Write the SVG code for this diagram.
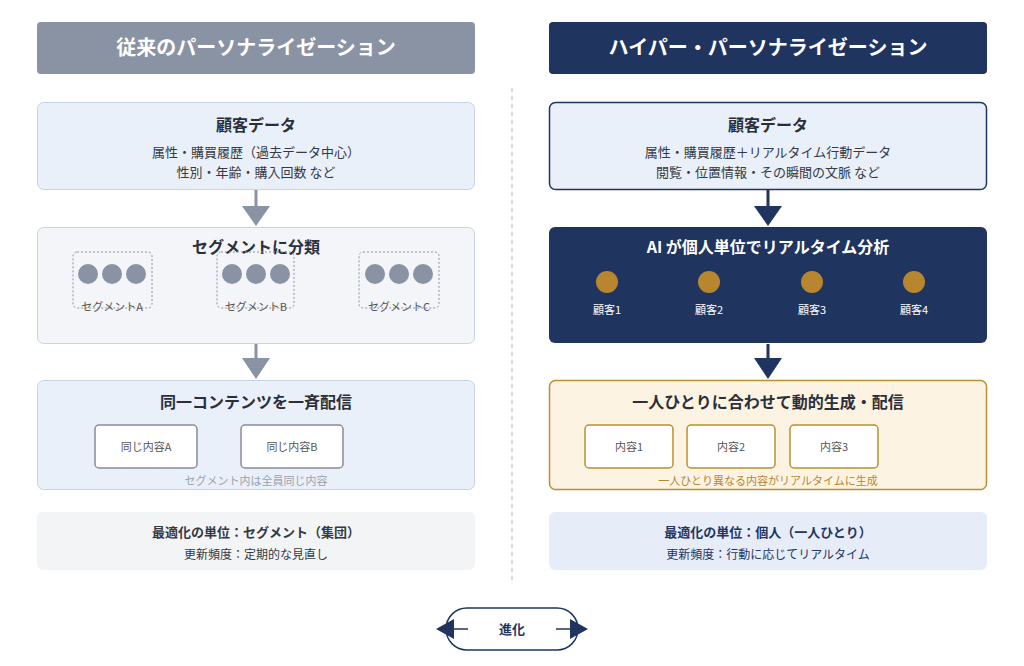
<svg xmlns="http://www.w3.org/2000/svg" width="1024" height="666" viewBox="0 0 1024 666">
<defs>
<style>
text{font-family:"Noto Sans CJK JP","Noto Sans",sans-serif;text-anchor:middle}
.h{font-size:20px;font-weight:bold;fill:#fff}
.t{font-size:16px;font-weight:bold;fill:#2b2f3a}
.s{font-size:13px;fill:#333a44}
.sm{font-size:11px;fill:#555}
.card{fill:#fff;stroke:#888c94;stroke-width:1.5}
.gc{fill:#fff;stroke:#b8912f;stroke-width:1.5}
</style>
<marker id="ag" viewBox="0 0 10 10" refX="5" refY="10" markerWidth="3.2" markerHeight="3.2" orient="auto"><path d="M0,0 L10,0 L5,10z" fill="#8a93a3"/></marker>
</defs>
<rect width="1024" height="666" fill="#fff"/>
<line x1="512" y1="88" x2="512" y2="582" stroke="#ccc" stroke-width="1.5" stroke-dasharray="4 4"/>

<g id="hdrL"><rect x="37" y="22" width="438" height="52" rx="4" fill="#8a93a3"/><text class="h" x="256" y="55">従来のパーソナライゼーション</text></g>
<g id="hdrR"><rect x="549" y="22" width="438" height="52" rx="4" fill="#1f3560"/><text class="h" x="768" y="55">ハイパー・パーソナライゼーション</text></g>

<g id="dataL"><rect x="37.5" y="102.5" width="437" height="87" rx="6" fill="#eaf0fa" stroke="#c8d3e6"/><text class="t" x="256" y="131">顧客データ</text><text class="s" x="256" y="157">属性・購買履歴（過去データ中心）</text><text class="s" x="256" y="177">性別・年齢・購入回数 など</text></g>
<g id="dataR"><rect x="549.5" y="102.5" width="437" height="87" rx="6" fill="#eaf0fa" stroke="#1f3560" stroke-width="1.5"/><text class="t" x="768" y="131">顧客データ</text><text class="s" x="768" y="157">属性・購買履歴＋リアルタイム行動データ</text><text class="s" x="768" y="177">閲覧・位置情報・その瞬間の文脈 など</text></g>

<g id="segL"><rect x="37.5" y="227.5" width="437" height="116" rx="6" fill="#f3f5f9" stroke="#c8d3e6"/><text class="t" x="256" y="253">セグメントに分類</text>
<g fill="#8a93a3"><circle cx="88" cy="274" r="10"/><circle cx="112" cy="274" r="10"/><circle cx="136" cy="274" r="10"/><circle cx="232" cy="274" r="10"/><circle cx="256" cy="274" r="10"/><circle cx="280" cy="274" r="10"/><circle cx="375" cy="274" r="10"/><circle cx="399" cy="274" r="10"/><circle cx="423" cy="274" r="10"/></g>
<g fill="none" stroke="#8a93a3" stroke-dasharray="2 2"><rect x="73" y="252" width="79" height="56" rx="4"/><rect x="217" y="252" width="77" height="56" rx="4"/><rect x="359" y="252" width="80" height="56" rx="4"/></g>
<text class="sm" x="112" y="311">セグメントA</text><text class="sm" x="256" y="311">セグメントB</text><text class="sm" x="399" y="311">セグメントC</text></g>

<g id="aiR"><rect x="549" y="227" width="438" height="116" rx="6" fill="#1f3560"/><text class="t" x="768" y="253" fill="#fff" style="fill:#fff">AI が個人単位でリアルタイム分析</text>
<g fill="#b8862f"><circle cx="607" cy="282" r="11"/><circle cx="709" cy="282" r="11"/><circle cx="812" cy="282" r="11"/><circle cx="914" cy="282" r="11"/></g>
<g class="sm" style="fill:#fff"><text x="607" y="314" fill="#fff">顧客1</text><text x="709" y="314" fill="#fff">顧客2</text><text x="812" y="314" fill="#fff">顧客3</text><text x="914" y="314" fill="#fff">顧客4</text></g></g>

<g id="distL"><rect x="37.5" y="380.5" width="437" height="109" rx="6" fill="#eaf0fa" stroke="#c8d3e6"/><text class="t" x="256" y="408">同一コンテンツを一斉配信</text>
<rect class="card" x="95" y="425" width="102" height="43" rx="4"/><text class="sm" x="146" y="451">同じ内容A</text>
<rect class="card" x="241" y="425" width="102" height="43" rx="4"/><text class="sm" x="292" y="451">同じ内容B</text>
<text class="sm" x="256" y="485" style="fill:#9aa1ad">セグメント内は全員同じ内容</text></g>

<g id="distR"><rect x="549.5" y="380.5" width="437" height="109" rx="6" fill="#fdf3e3" stroke="#b8912f" stroke-width="1.5"/><text class="t" x="768" y="408">一人ひとりに合わせて動的生成・配信</text>
<rect class="gc" x="585" y="425" width="88" height="43" rx="4"/><text class="sm" x="629" y="451">内容1</text>
<rect class="gc" x="687" y="425" width="88" height="43" rx="4"/><text class="sm" x="731" y="451">内容2</text>
<rect class="gc" x="790" y="425" width="88" height="43" rx="4"/><text class="sm" x="834" y="451">内容3</text>
<text class="sm" x="768" y="485" style="fill:#b8862f">一人ひとり異なる内容がリアルタイムに生成</text></g>

<g id="sumL"><rect x="37" y="512" width="438" height="58" rx="6" fill="#f3f4f6"/><text x="256" y="537" style="font-size:13px;font-weight:bold;fill:#333a44">最適化の単位：セグメント（集団）</text><text class="sm" x="256" y="559" style="font-size:12px;fill:#333a44">更新頻度：定期的な見直し</text></g>
<g id="sumR"><rect x="549" y="512" width="438" height="58" rx="6" fill="#e6edf8"/><text x="768" y="537" style="font-size:13px;font-weight:bold;fill:#1f3560">最適化の単位：個人（一人ひとり）</text><text class="sm" x="768" y="559" style="font-size:12px;fill:#1f3560">更新頻度：行動に応じてリアルタイム</text></g>

<g id="connectors">
<line x1="256" y1="190" x2="256" y2="208" stroke="#8a93a3" stroke-width="3"/><path d="M242,206 L270,206 L256,226z" fill="#8a93a3"/>
<line x1="256" y1="344" x2="256" y2="360" stroke="#8a93a3" stroke-width="3"/><path d="M242,358 L270,358 L256,379z" fill="#8a93a3"/>
<line x1="768" y1="190" x2="768" y2="208" stroke="#1f3560" stroke-width="3"/><path d="M754,206 L782,206 L768,226z" fill="#1f3560"/>
<line x1="768" y1="344" x2="768" y2="360" stroke="#1f3560" stroke-width="3"/><path d="M754,358 L782,358 L768,379z" fill="#1f3560"/>
</g>

<g id="evo"><rect x="446" y="608" width="132" height="42" rx="21" fill="#fff" stroke="#1f3560" stroke-width="1.5"/>
<line x1="452" y1="629" x2="468" y2="629" stroke="#1f3560" stroke-width="1.5"/><line x1="556" y1="629" x2="572" y2="629" stroke="#1f3560" stroke-width="1.5"/>
<path d="M436,629 L454,619 L454,639z M588,629 L570,619 L570,639z" fill="#1f3560"/>
<text x="512" y="634" style="font-size:13px;font-weight:bold;fill:#1f3560">進化</text></g>
</svg>
